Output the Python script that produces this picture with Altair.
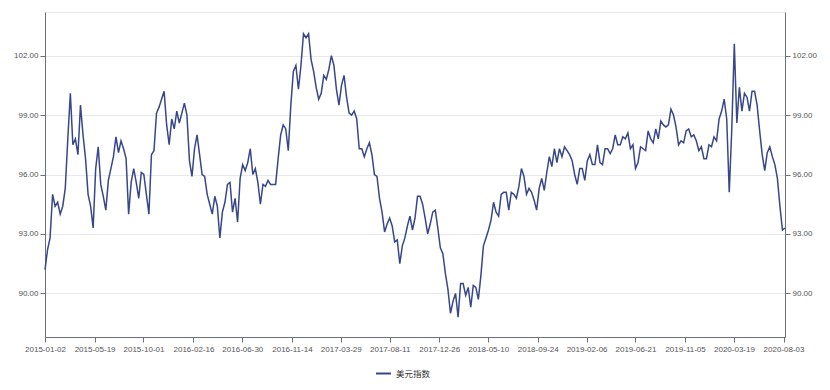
import altair as alt
import pandas as pd

# Weekly readings of the US Dollar Index (美元指数), Fridays from 2015-01-02
START_DATE = "2015-01-02"
SERIES_NAME = "美元指数"
dxy = [
    91.2, 92.2, 92.8, 95.0, 94.4, 94.6, 94.0, 94.4, 95.3, 97.8,
    100.1, 97.5, 97.8, 97.0, 99.5, 98.0, 96.8, 95.0, 94.4, 93.3,
    96.3, 97.4, 95.5, 94.9, 94.2, 95.7, 96.3, 96.9, 97.9, 97.1,
    97.7, 97.3, 96.8, 94.0, 95.6, 96.3, 95.6, 94.8, 96.1, 96.0,
    95.0, 94.0, 97.0, 97.2, 99.1, 99.4, 99.8, 100.2, 98.5, 97.5,
    98.8, 98.3, 99.2, 98.6, 99.1, 99.6, 99.0, 96.7, 95.9, 97.3,
    98.0, 97.0, 96.0, 95.9, 95.0, 94.5, 94.0, 94.9, 94.4, 92.8,
    94.1, 94.6, 95.5, 95.6, 94.1, 94.8, 93.6, 95.8, 96.5, 96.2,
    96.6, 97.3, 96.0, 96.3, 95.6, 94.5, 95.5, 95.4, 95.7, 95.5,
    95.5, 95.5, 96.8, 98.0, 98.5, 98.3, 97.2, 99.5, 101.2, 101.5,
    100.3, 101.5, 103.1, 102.9, 103.1, 101.8, 101.2, 100.4, 99.8, 100.1,
    101.0, 100.8, 101.3, 102.0, 101.5, 100.3, 99.5, 100.5, 101.0, 99.9,
    99.1, 99.0, 99.2, 98.8, 97.3, 97.3, 96.9, 97.3, 97.6, 97.0,
    96.0, 95.9, 94.8, 94.1, 93.1, 93.5, 93.8, 93.4, 92.6, 92.7,
    91.5, 92.4, 92.8, 93.4, 93.9, 93.2, 93.8, 94.9, 94.9, 94.5,
    93.8, 93.0, 93.5, 94.1, 94.2, 93.3, 92.3, 92.0, 91.0, 90.2,
    89.0, 89.6, 90.0, 88.8, 90.5, 90.5, 89.9, 90.3, 89.3, 90.4,
    90.3, 89.7, 90.9, 92.4, 92.8, 93.2, 93.7, 94.6, 94.1, 93.9,
    95.0, 95.1, 95.1, 94.2, 95.1, 95.0, 94.8, 95.4, 96.3, 95.9,
    95.0, 95.3, 95.1, 94.7, 94.2, 95.3, 95.8, 95.2, 96.1, 96.9,
    96.4, 97.3, 96.6, 97.3, 96.9, 97.4, 97.2, 97.0, 96.7, 96.0,
    95.5, 96.3, 96.3, 95.7, 96.7, 97.0, 96.5, 96.5, 97.5, 96.6,
    96.5, 97.3, 97.3, 97.05, 97.3, 98.0, 97.5, 97.5, 97.9, 97.8,
    98.1, 97.3, 97.5, 96.3, 96.6, 97.4, 97.3, 97.2, 98.2, 97.8,
    97.6, 98.3, 97.8, 98.7, 98.5, 98.4, 98.5, 99.3, 99.0, 98.4,
    97.5, 97.7, 97.6, 98.2, 98.3, 97.9, 98.0, 97.7, 97.2, 97.4,
    96.8, 96.8, 97.5, 97.4, 97.9, 97.7, 98.8, 99.2, 99.8, 98.8,
    95.1, 98.3, 102.6, 98.6, 100.4, 99.2, 100.1, 99.9, 99.2, 100.2,
    100.2, 99.5, 98.2, 97.0, 96.2, 97.1, 97.4, 96.9, 96.5, 95.8,
    94.4, 93.2, 93.3,
]

tick_dates = [
    "2015-01-02", "2015-05-19", "2015-10-01", "2016-02-16", "2016-06-30",
    "2016-11-14", "2017-03-29", "2017-08-11", "2017-12-26", "2018-05-10",
    "2018-09-24", "2019-02-06", "2019-06-21", "2019-11-05", "2020-03-19",
    "2020-08-03",
]
y_ticks = [90, 93, 96, 99, 102]
y_domain = [87.8, 104.2]

dates = pd.date_range(START_DATE, periods=len(dxy), freq="7D")
df = pd.DataFrame({
    "date": dates.strftime("%Y-%m-%d"),
    "value": dxy,
    "series": SERIES_NAME,
})


def to_dt(s):
    y, m, d = (int(p) for p in s.split("-"))
    return alt.DateTime(year=y, month=m, date=d, utc=True)


LINE_COLOR = "#37478a"
AXIS_COLOR = "#6E7079"
LABEL_COLOR = "#555555"
GRID_COLOR = "#E6E9F0"
FONT = "Liberation Sans"
FS = 8

x_enc = alt.X(
    "date:T",
    scale=alt.Scale(type="utc", nice=False),
    axis=alt.Axis(
        values=[to_dt(s) for s in tick_dates],
        format="%Y-%m-%d",
        title=None,
        grid=False,
        labelFlush=False,
        labelOverlap=False,
        labelFont=FONT,
        labelFontSize=FS,
        labelColor=LABEL_COLOR,
        labelPadding=3,
        domainColor=AXIS_COLOR,
        tickColor=AXIS_COLOR,
        tickSize=5,
    ),
)

y_scale = alt.Scale(domain=y_domain, nice=False, zero=False)

left = alt.Chart(df).mark_line(strokeWidth=1.5).encode(
    x=x_enc,
    y=alt.Y(
        "value:Q",
        scale=y_scale,
        axis=alt.Axis(
            values=y_ticks,
            format=".2f",
            title=None,
            grid=True,
            gridColor=GRID_COLOR,
            labelFont=FONT,
            labelFontSize=FS,
            labelColor=LABEL_COLOR,
            labelPadding=2,
            domainColor=AXIS_COLOR,
            tickColor=AXIS_COLOR,
            tickSize=5,
        ),
    ),
    color=alt.Color(
        "series:N",
        scale=alt.Scale(range=[LINE_COLOR]),
        legend=alt.Legend(
            title=None,
            orient="none",
            legendX=330,
            legendY=353,
            direction="horizontal",
            symbolType="stroke",
            symbolStrokeWidth=2,
            symbolSize=225,
            labelFont="Noto Sans CJK SC",
            labelFontSize=8.5,
            labelColor="#333333",
        ),
    ),
)

right = alt.Chart(df).mark_line(strokeOpacity=0).encode(
    x=x_enc,
    y=alt.Y(
        "value:Q",
        scale=y_scale,
        axis=alt.Axis(
            orient="right",
            values=y_ticks,
            format=".2f",
            title=None,
            grid=False,
            labelFont=FONT,
            labelFontSize=FS,
            labelColor=LABEL_COLOR,
            labelPadding=2,
            domainColor=AXIS_COLOR,
            tickColor=AXIS_COLOR,
            tickSize=5,
        ),
    ),
)

chart = (
    alt.layer(left, right)
    .resolve_axis(y="independent")
    .properties(
        width=740,
        height=325,
        autosize=alt.AutoSizeParams(type="none"),
        padding={"left": 37, "top": 4, "right": 36, "bottom": 45},
        background="white",
    )
    .configure_view(stroke=GRID_COLOR)
)

chart.save("out.html", embed_options={"renderer": "svg", "actions": False})
